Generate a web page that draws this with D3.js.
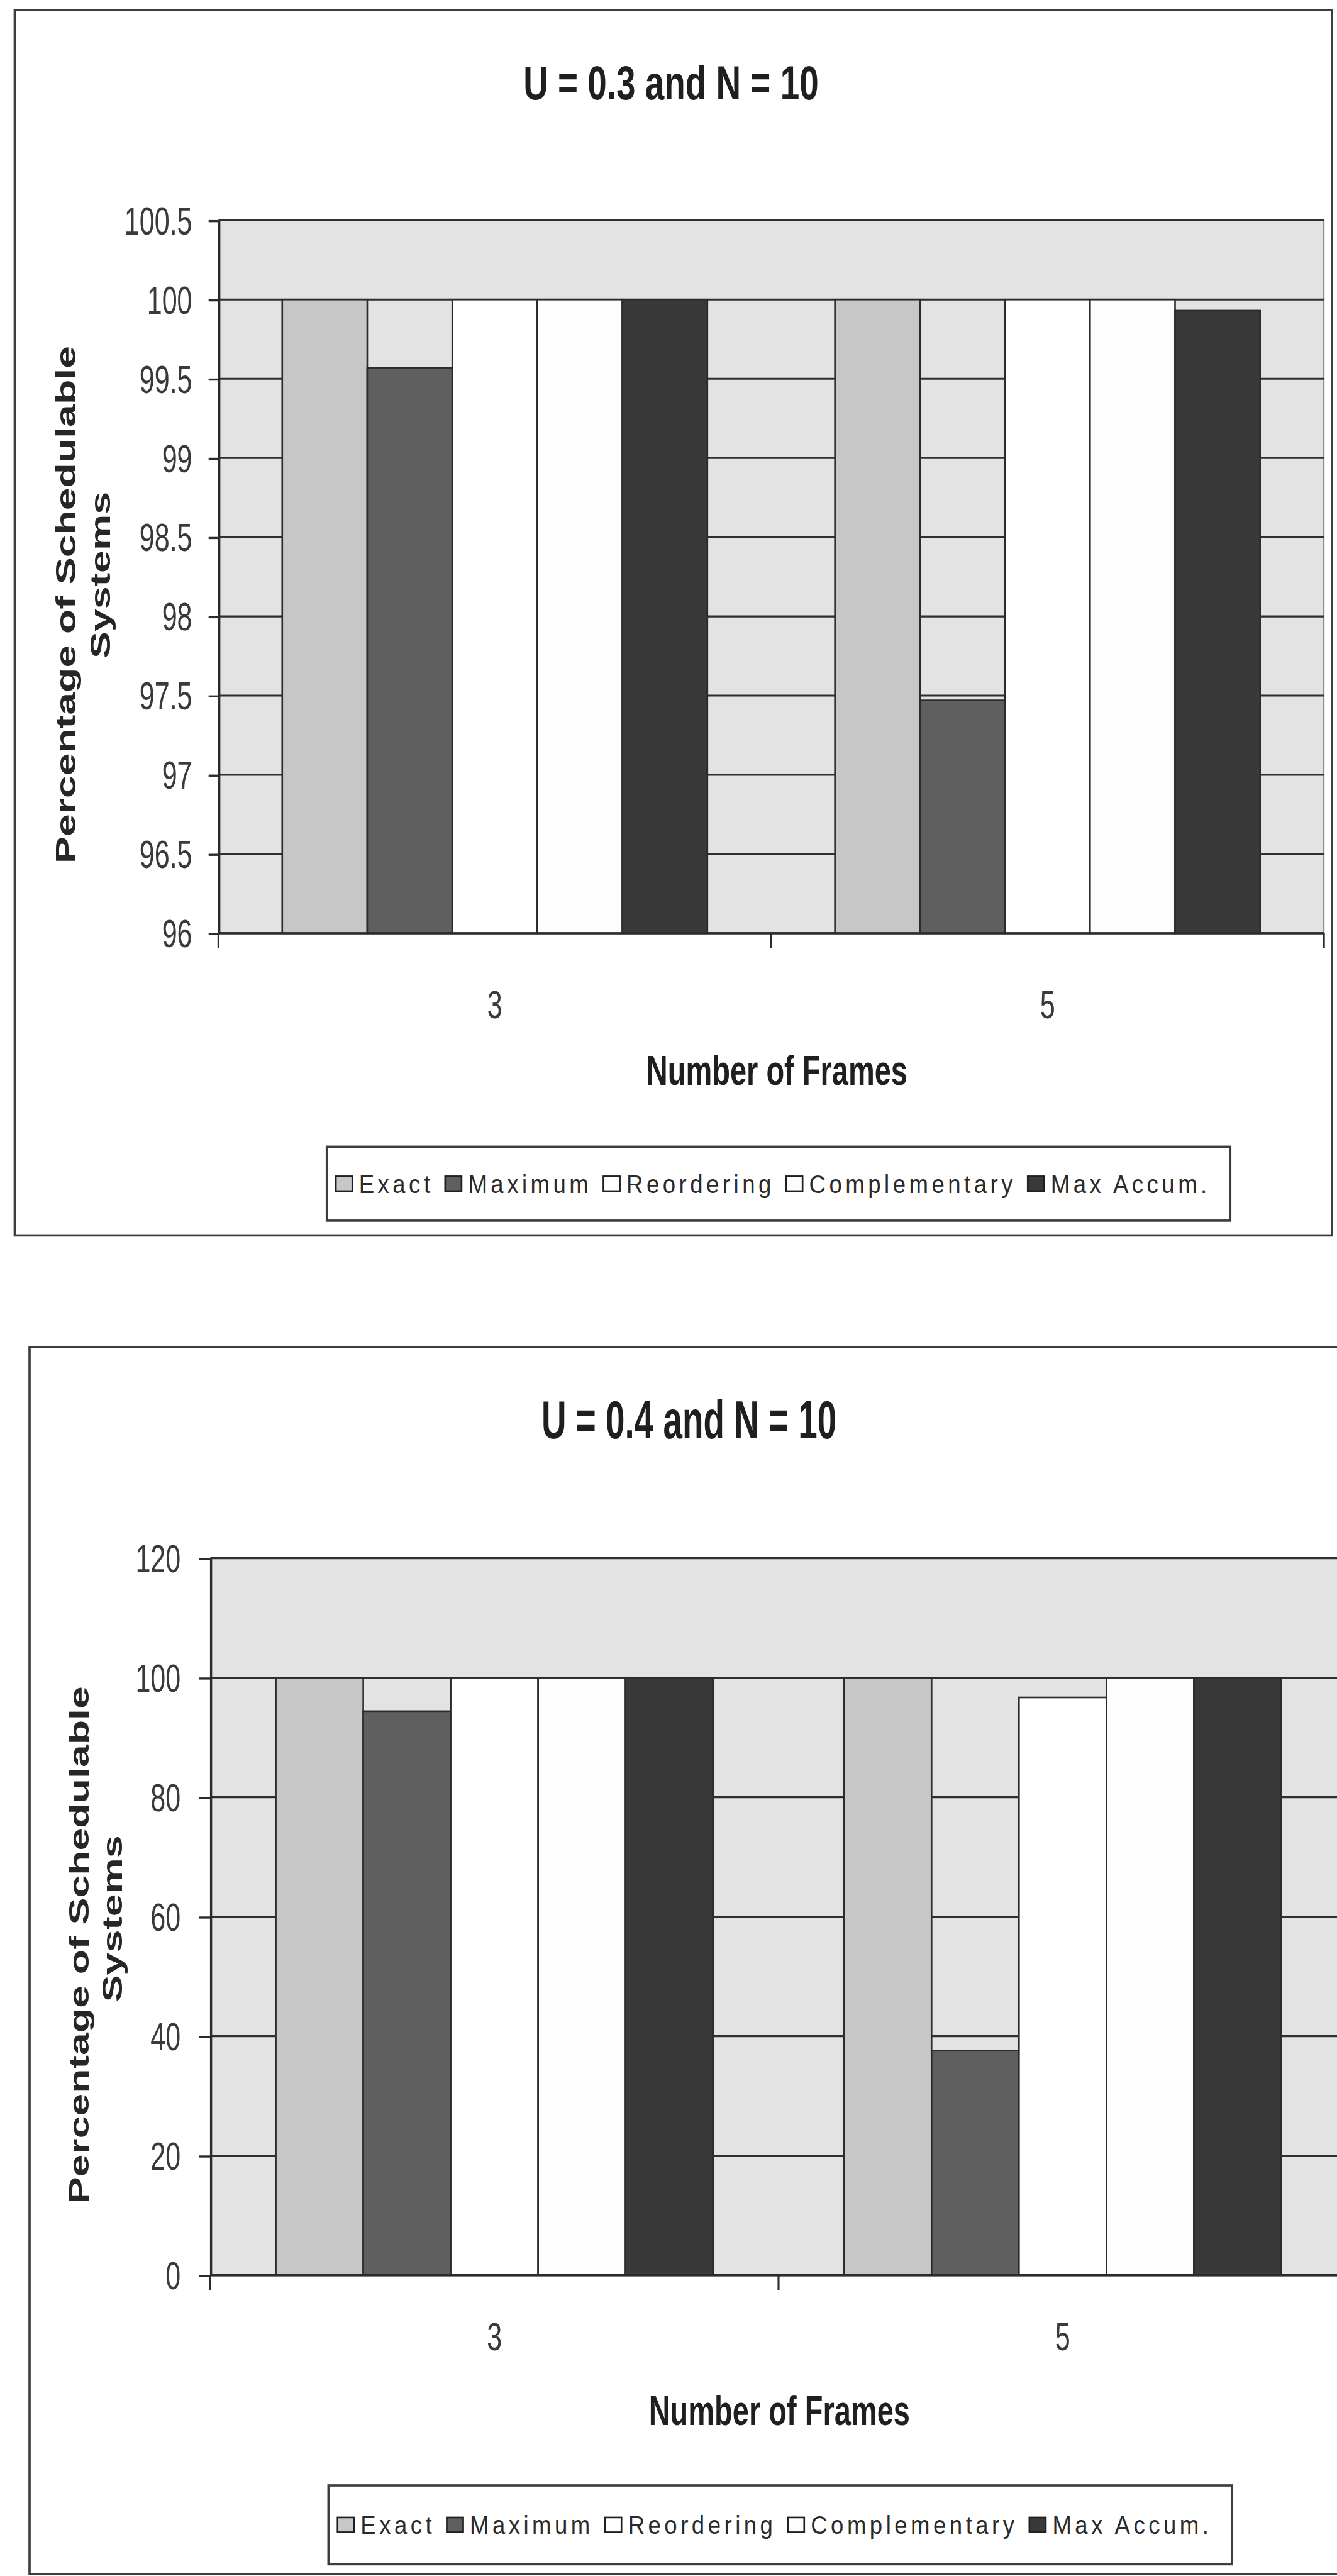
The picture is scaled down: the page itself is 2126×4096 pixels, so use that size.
<!DOCTYPE html>
<html>
<head>
<meta charset="utf-8">
<script src="https://cdn.jsdelivr.net/npm/d3@7"></script>
<style>
  html, body { margin: 0; padding: 0; background: #ffffff; }
  svg { display: block; }
</style>
</head>
<body>
<svg id="page" width="2126" height="4096" viewBox="0 0 814 1568"></svg>
<script>
// ---- data ----
const categories = ["3", "5"];
const seriesNames = ["Exact", "Maximum", "Reordering", "Complementary", "Max Accum."];
const seriesFills = ["#c7c7c7", "#5f5f5f", "#ffffff", "#fdfdfd", "#393939"];

// U = 0.3, N = 10 : one array per series, values for 3 and 5 frames
const u03Exact = [100, 100];
const u03Maximum = [99.57, 97.47];
const u03Reordering = [100, 100];
const u03Complementary = [100, 100];
const u03MaxAccum = [100, 99.93];
const u03Ticks = [96, 96.5, 97, 97.5, 98, 98.5, 99, 99.5, 100, 100.5];

// U = 0.4, N = 10
const u04Exact = [100, 100];
const u04Maximum = [94.4, 37.6];
const u04Reordering = [100, 96.7];
const u04Complementary = [100, 100];
const u04MaxAccum = [100, 100];
const u04Ticks = [0, 20, 40, 60, 80, 100, 120];

// ---- layout (in 814 x 1568 page units) ----
const charts = [
  {
    title: "U = 0.3 and N = 10",
    series: [u03Exact, u03Maximum, u03Reordering, u03Complementary, u03MaxAccum],
    ticks: u03Ticks,
    frame: { x0: 9, y0: 6, x1: 811, y1: 752 },
    plot: { left: 133, right: 806, top: 134, bottom: 568 },
    titlePos: { x: 408.5, cy: 50, sy: 1.4 },
    yTitle: { x1: 40, c1: 368, x2: 61, c2: 350 },
    tickRight: 117, tickLen: 6,
    catCy: 611, xTitleX: 473, xTitleCy: 651,
    legend: { x: 199, y: 698, w: 550, h: 45 }
  },
  {
    title: "U = 0.4 and N = 10",
    series: [u04Exact, u04Maximum, u04Reordering, u04Complementary, u04MaxAccum],
    ticks: u04Ticks,
    frame: { x0: 18, y0: 820, x1: 822, y1: 1567 },
    plot: { left: 128, right: 820, top: 948.5, bottom: 1385 },
    titlePos: { x: 419.5, cy: 864, sy: 1.55 },
    yTitle: { x1: 48, c1: 1184, x2: 68, c2: 1168 },
    tickRight: 110, tickLen: 7,
    catCy: 1422, xTitleX: 474.5, xTitleCy: 1467,
    legend: { x: 200, y: 1513, w: 550, h: 48 }
  }
];

const FONT = "'Liberation Sans', Arial, Helvetica, sans-serif";
const CAP = 0.716;
const svg = d3.select("#page");

// Text that is taller than the font's natural shape (vertical stretch sy).
function tallText(parent, opts) {
  const size = opts.size, sy = opts.sy;
  const baseline = opts.cy + CAP * size * sy / 2;
  return parent.append("text")
    .attr("transform", `translate(${opts.x},${baseline}) scale(1,${sy})`)
    .attr("text-anchor", opts.anchor || "middle")
    .attr("font-family", FONT)
    .attr("font-size", size)
    .attr("font-weight", opts.weight || "normal")
    .attr("fill", opts.fill || "#262626")
    .style("letter-spacing", (opts.spacing || 0) + "px")
    .text(opts.text);
}

// Rotated axis title line, stretched along its length.
function rotatedText(parent, cx, cy, text, size, stretch) {
  parent.append("text")
    .attr("transform", `translate(${cx},${cy}) rotate(-90) scale(${stretch},1)`)
    .attr("text-anchor", "middle")
    .attr("dy", (CAP / 2) + "em")
    .attr("font-family", FONT)
    .attr("font-size", size)
    .attr("font-weight", "bold")
    .attr("fill", "#262626")
    .text(text);
}

charts.forEach(cfg => {
  const g = svg.append("g");
  const p = cfg.plot;
  const y = d3.scaleLinear()
    .domain([cfg.ticks[0], cfg.ticks[cfg.ticks.length - 1]])
    .range([p.bottom, p.top]);
  const x0 = d3.scaleBand().domain(categories).range([p.left, p.right]).padding(0);
  const x1 = d3.scaleBand().domain(seriesNames).range([0, x0.bandwidth()])
    .paddingInner(0).paddingOuter(0.75);

  // chart frame
  g.append("rect")
    .attr("x", cfg.frame.x0).attr("y", cfg.frame.y0)
    .attr("width", cfg.frame.x1 - cfg.frame.x0).attr("height", cfg.frame.y1 - cfg.frame.y0)
    .attr("fill", "#ffffff").attr("stroke", "#3d3d3d").attr("stroke-width", 1.4);

  // plot area
  g.append("rect")
    .attr("x", p.left).attr("y", p.top)
    .attr("width", p.right - p.left).attr("height", p.bottom - p.top)
    .attr("fill", "#e3e3e3");
  g.append("line")
    .attr("x1", p.right).attr("x2", p.right).attr("y1", p.top).attr("y2", p.bottom)
    .attr("stroke", "#8a8a8a").attr("stroke-width", 0.8);

  // horizontal gridlines
  g.append("g").selectAll("line").data(cfg.ticks).join("line")
    .attr("x1", p.left).attr("x2", p.right)
    .attr("y1", d => y(d)).attr("y2", d => y(d))
    .attr("stroke", "#2f2f2f").attr("stroke-width", 1.2);

  // bars
  const base = cfg.ticks[0];
  const barData = [];
  categories.forEach((c, ci) => {
    seriesNames.forEach((s, si) => {
      barData.push({ cat: c, name: s, fill: seriesFills[si], value: cfg.series[si][ci] });
    });
  });
  g.append("g").selectAll("rect").data(barData).join("rect")
    .attr("x", d => x0(d.cat) + x1(d.name))
    .attr("y", d => y(d.value))
    .attr("width", x1.bandwidth())
    .attr("height", d => y(base) - y(d.value))
    .attr("fill", d => d.fill)
    .attr("stroke", "#2b2b2b").attr("stroke-width", 1);

  // y axis
  const yAxis = d3.axisLeft(y).tickValues(cfg.ticks).tickSize(cfg.tickLen)
    .tickSizeOuter(0).tickFormat("");
  const ya = g.append("g").attr("transform", `translate(${p.left},0)`).call(yAxis);
  ya.select(".domain").attr("stroke", "#2b2b2b").attr("stroke-width", 1.3);
  ya.selectAll(".tick line").attr("stroke", "#2b2b2b").attr("stroke-width", 1.3);

  cfg.ticks.forEach(t => {
    tallText(g, { x: cfg.tickRight, cy: y(t), text: String(t), size: 16.5, sy: 1.45,
                  anchor: "end", fill: "#3a3a3a" });
  });

  // x axis: line plus tick marks on the category boundaries
  g.append("line")
    .attr("x1", p.left).attr("x2", p.right).attr("y1", p.bottom).attr("y2", p.bottom)
    .attr("stroke", "#2b2b2b").attr("stroke-width", 1.3);
  const bounds = categories.map(c => x0(c)).concat([x0.range()[1]]);
  g.append("g").selectAll("line").data(bounds).join("line")
    .attr("x1", d => d).attr("x2", d => d)
    .attr("y1", p.bottom).attr("y2", p.bottom + 9)
    .attr("stroke", "#2b2b2b").attr("stroke-width", 1.2);

  categories.forEach(c => {
    tallText(g, { x: x0(c) + x0.bandwidth() / 2, cy: cfg.catCy, text: c, size: 16.5, sy: 1.45,
                  fill: "#3a3a3a" });
  });

  // titles
  tallText(g, { x: cfg.titlePos.x, cy: cfg.titlePos.cy, text: cfg.title, size: 21,
                sy: cfg.titlePos.sy, weight: "bold", fill: "#1f1f1f" });
  tallText(g, { x: cfg.xTitleX, cy: cfg.xTitleCy,
                text: "Number of Frames", size: 18, sy: 1.42, weight: "bold", fill: "#1f1f1f" });
  rotatedText(g, cfg.yTitle.x1, cfg.yTitle.c1, "Percentage of Schedulable", 17, 1.45);
  rotatedText(g, cfg.yTitle.x2, cfg.yTitle.c2, "Systems", 17, 1.45);

  // legend
  const L = cfg.legend;
  const lg = g.append("g");
  lg.append("rect")
    .attr("x", L.x).attr("y", L.y).attr("width", L.w).attr("height", L.h)
    .attr("fill", "#ffffff").attr("stroke", "#3d3d3d").attr("stroke-width", 1.4);
  const lcy = L.y + L.h / 2;
  let cx = L.x + 5.5;
  seriesNames.forEach((s, i) => {
    lg.append("rect")
      .attr("x", cx).attr("y", lcy - 4.5).attr("width", 10).attr("height", 9)
      .attr("fill", seriesFills[i]).attr("stroke", "#1f1f1f").attr("stroke-width", 1);
    const t = tallText(lg, { x: cx + 14, cy: lcy, text: s, size: 14, sy: 1.12,
                             anchor: "start", spacing: 2.1, fill: "#2a2a2a" });
    cx = cx + 14 + t.node().getComputedTextLength() + 7;
  });
});
</script>
</body>
</html>
